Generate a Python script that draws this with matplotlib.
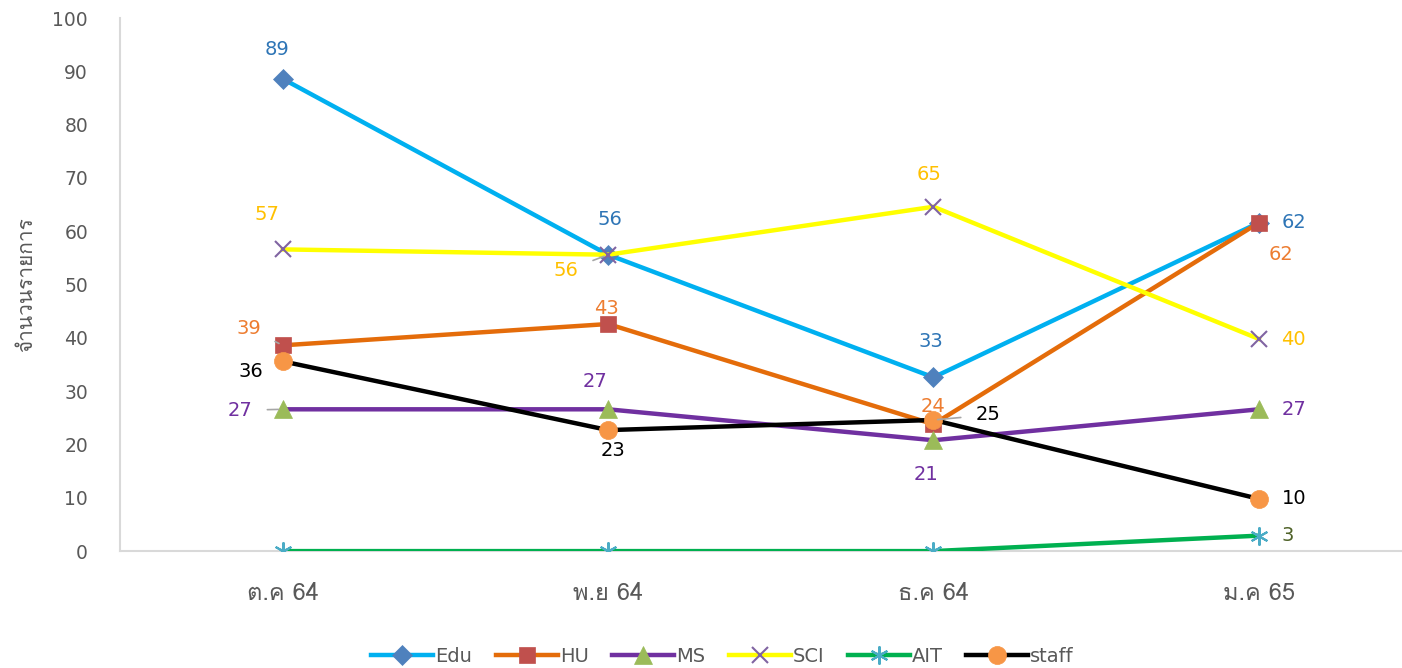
import matplotlib
matplotlib.use('Agg')
import matplotlib.pyplot as plt
from matplotlib import font_manager
from fontTools.ttLib import TTFont

# หาฟอนต์ที่มีอักษรไทย
thai_font = None
for f in font_manager.fontManager.ttflist:
    try:
        cmap = TTFont(f.fname, fontNumber=0, lazy=True).getBestCmap()
        if cmap and 0x0E08 in cmap and 0x0E33 in cmap:
            thai_font = f.name
            break
    except Exception:
        pass
fams = ([thai_font] if thai_font else []) + ['DejaVu Sans']

months = ['ต.ค 64', 'พ.ย 64', 'ธ.ค 64', 'ม.ค 65']
edu = [88.6, 55.6, 32.6, 61.6]
hu = [38.6, 42.6, 23.8, 61.6]
ms = [26.6, 26.6, 20.8, 26.6]
sci = [56.6, 55.6, 64.6, 39.8]
ait = [0, 0, 0, 2.9]
staff = [35.6, 22.7, 24.6, 9.8]

series = [
    # name, data, line colour, marker, marker colour, label colour, marker size
    ('Edu', edu, '#00B0F0', 'D', '#4F81BD', '#2E75B6', 10),
    ('HU', hu, '#E46C0A', 's', '#C0504D', '#ED7D31', 12),
    ('MS', ms, '#7030A0', '^', '#9BBB59', '#7030A0', 13),
    ('SCI', sci, '#FFFF00', 'x', '#8064A2', '#FFC000', 12),
    ('AIT', ait, '#00B050', (6, 2, 0), '#4BACC6', '#4F6228', 13),
    ('staff', staff, '#000000', 'o', '#F79646', '#000000', 13),
]

# ตำแหน่งป้ายค่า (pixel offset) , None = ไม่แสดง, flag = เส้นโยง
offsets = {
    'Edu': [(-6, 29, 0), (2, 35, 0), (-3, 36, 0), (35, 0, 0)],
    'HU': [(-34, 17, 1), (-2, 16, 0), (0, 18, 0), (22, -32, 0)],
    'MS': [(-43, -1, 1), (-13, 28, 0), (-7, -34, 0), (35, 0, 0)],
    'SCI': [(-16, 35, 0), (-42, -16, 1), (-4, 32, 0), (35, -1, 0)],
    'AIT': [None, None, None, (29, 0, 0)],
    'staff': [(-32, -10, 0), (5, -20, 0), (55, 5, 1), (35, 0, 0)],
}

fig = plt.figure(figsize=(14.02, 6.68), dpi=100)
ax = fig.add_axes([0.0856, 0.175, 0.9144, 0.798])

x = list(range(len(months)))
for name, vals, lc, mk, mc, tc, ms_ in series:
    ax.plot(x, vals, color=lc, lw=3.2, marker=mk, markersize=ms_,
            markerfacecolor=mc, markeredgecolor=mc,
            markeredgewidth=1.5 if mk in ('x', (6, 2, 0)) else 0.5, label=name, zorder=3)
    for i, v in enumerate(vals):
        off = offsets[name][i]
        if off is None:
            continue
        dx, dy, lead = off
        ax.annotate(f'{v:.0f}', (i, v), xytext=(dx, dy), textcoords='offset pixels',
                    ha='center', va='center', color=tc, fontsize=14, zorder=5,
                    arrowprops=dict(arrowstyle='-', color='#A6A6A6', lw=1.2,
                                    shrinkA=9, shrinkB=3) if lead else None)

ax.set_xlim(-0.5, 3.44)
ax.set_ylim(0, 100)
ax.set_yticks(range(0, 101, 10))
ax.set_xticks(x)
ax.set_xticklabels(months)
ax.tick_params(axis='both', length=0, labelsize=13.5, labelcolor='#595959')
ax.tick_params(axis='x', pad=22)
ax.tick_params(axis='y', pad=23)
for lab in ax.get_xticklabels():
    lab.set_family(fams)
    lab.set_fontsize(17)
for s in ['top', 'right']:
    ax.spines[s].set_visible(False)
for s in ['left', 'bottom']:
    ax.spines[s].set_color('#D9D9D9')
    ax.spines[s].set_linewidth(1.5)
ax.set_ylabel('จำนวนรายการ', family=fams, fontsize=15, color='#595959', labelpad=12)

ax.legend(loc='center', bbox_to_anchor=(0.47, -0.197), ncol=6, frameon=False,
          fontsize=14, labelcolor='#595959', handlelength=3.2, handletextpad=0.1,
          columnspacing=1.2)

fig.savefig('out.png', dpi=100)
